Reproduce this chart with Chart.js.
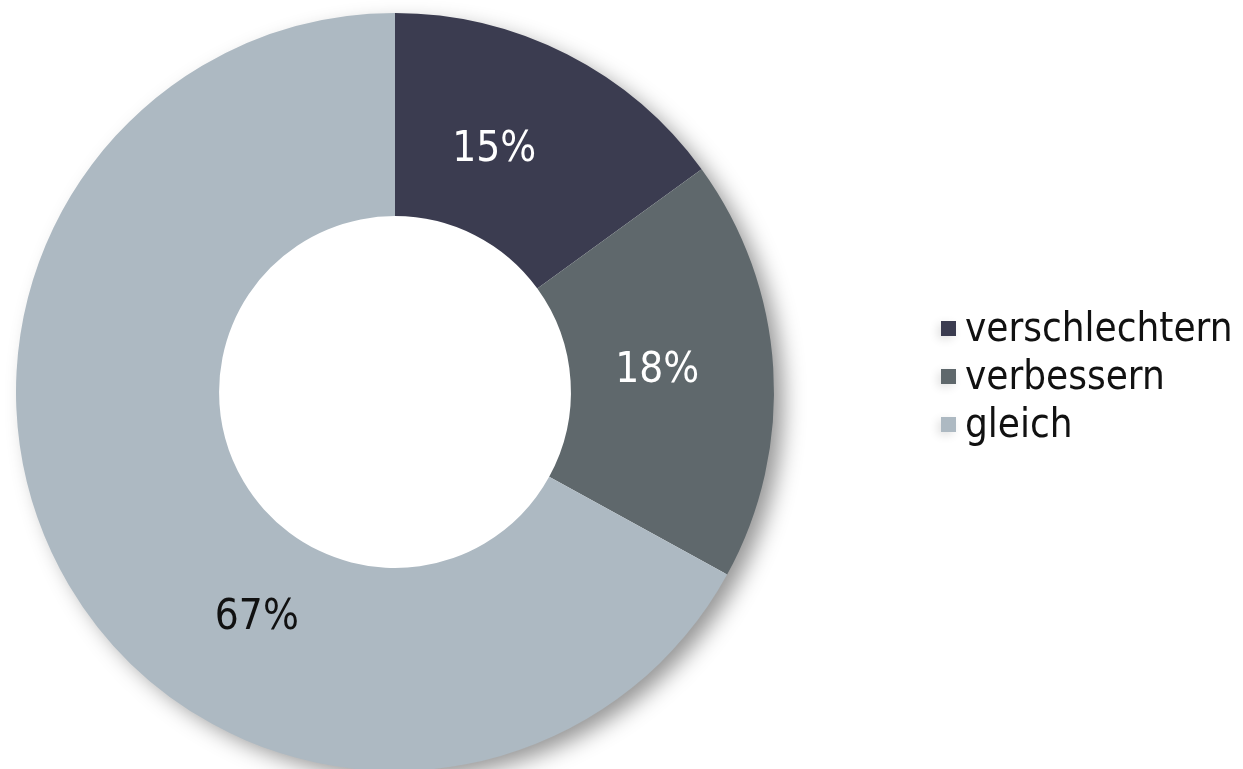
<!DOCTYPE html>
<html lang="de">
<head>
<meta charset="utf-8">
<title>Erwartung</title>
<script src="https://cdn.jsdelivr.net/npm/chart.js@4.4.1/dist/chart.umd.min.js"></script>
<style>
  html, body { margin: 0; padding: 0; background: #ffffff; }
  #wrap { position: relative; width: 1243px; height: 769px; overflow: hidden; }
  #chart { position: absolute; left: 0; top: 0; }
  #legend {
    position: absolute; left: 941px; top: 303px;
    font-family: "DejaVu Sans Condensed", "DejaVu Sans", sans-serif;
    font-stretch: condensed;
    font-size: 40px; color: #111111; line-height: 48px;
  }
  #legend .item { display: flex; align-items: center; white-space: nowrap; }
  #legend .box {
    width: 15px; height: 15px; margin-right: 9px; margin-top: 2px;
    box-shadow: -3px 3px 10px rgba(0,0,0,0.12);
  }
</style>
</head>
<body>
<div id="wrap">
  <canvas id="chart" width="1243" height="769"></canvas>
  <div id="legend"></div>
</div>
<script>
// Categories and shares (percent)
const categories = ['verschlechtern', 'verbessern', 'gleich'];
const shares = [15, 18, 67];

// Slice colours and label colours
const sliceColors = ['#3b3c50', '#5f686c', '#adb9c2'];
const labelColors = ['#ffffff', '#ffffff', '#111111'];
// Where along each slice's sweep its label sits (0 = start, 1 = end)
const labelAnchor = [0.41, 0.48, 0.385];

const FONT = '"DejaVu Sans Condensed", "DejaVu Sans", sans-serif';

// Soft drop shadow under the whole ring, cast towards the lower right
const ringShadow = {
  id: 'ringShadow',
  beforeDatasetsDraw(chart) {
    const arcs = chart.getDatasetMeta(0).data;
    if (!arcs.length) return;
    const { x, y, outerRadius } = arcs[0].getProps(['x', 'y', 'outerRadius'], true);
    const ctx = chart.ctx;
    ctx.save();
    ctx.shadowColor = 'rgba(0,0,0,0.42)';
    ctx.shadowBlur = 22;
    ctx.shadowOffsetX = 11;
    ctx.shadowOffsetY = 9;
    ctx.fillStyle = '#ffffff';
    ctx.beginPath();
    ctx.arc(x, y, outerRadius - 2, 0, Math.PI * 2);
    ctx.fill();
    ctx.restore();
  }
};

// Percentage labels inside the slices
const sliceLabels = {
  id: 'sliceLabels',
  afterDatasetsDraw(chart) {
    const ctx = chart.ctx;
    const meta = chart.getDatasetMeta(0);
    const values = chart.data.datasets[0].data;
    ctx.save();
    ctx.font = '42px ' + FONT;
    ctx.textAlign = 'center';
    ctx.textBaseline = 'middle';
    meta.data.forEach((arc, i) => {
      const p = arc.getProps(['x', 'y', 'startAngle', 'endAngle', 'innerRadius', 'outerRadius'], true);
      const a = p.startAngle + labelAnchor[i] * (p.endAngle - p.startAngle);
      const r = p.innerRadius + 0.43 * (p.outerRadius - p.innerRadius);
      ctx.fillStyle = labelColors[i];
      ctx.fillText(values[i] + '%', p.x + r * Math.cos(a), p.y + r * Math.sin(a) + 2);
    });
    ctx.restore();
  }
};

const chart = new Chart(document.getElementById('chart'), {
  type: 'doughnut',
  data: {
    labels: categories,
    datasets: [{
      data: shares,
      backgroundColor: sliceColors,
      borderWidth: 0,
      hoverOffset: 0
    }]
  },
  options: {
    responsive: false,
    animation: false,
    radius: 379,
    cutout: 175,
    layout: { padding: { left: 0, right: 453, top: 15, bottom: 0 } },
    plugins: {
      legend: { display: false },
      tooltip: { enabled: false }
    },
    events: []
  },
  plugins: [ringShadow, sliceLabels]
});

// Legend built from the chart's own labels and colours
const legendEl = document.getElementById('legend');
chart.data.labels.forEach((name, i) => {
  const item = document.createElement('div');
  item.className = 'item';
  const box = document.createElement('span');
  box.className = 'box';
  box.style.background = chart.data.datasets[0].backgroundColor[i];
  const txt = document.createElement('span');
  txt.textContent = name;
  item.appendChild(box);
  item.appendChild(txt);
  legendEl.appendChild(item);
});
</script>
</body>
</html>
